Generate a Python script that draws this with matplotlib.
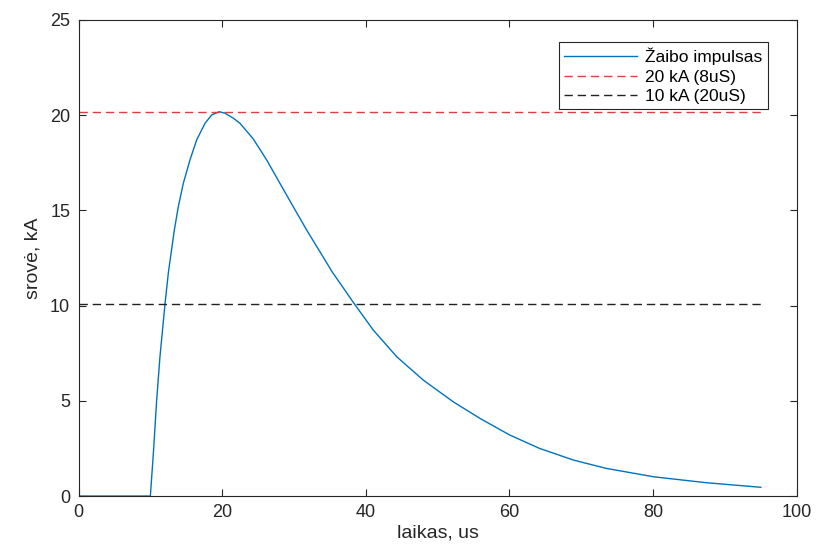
import matplotlib.pyplot as plt

plt.rcParams['font.family'] = ['Liberation Sans', 'DejaVu Sans']

# values
laikas = [0, 10.0, 10.42, 10.88, 11.34, 12.04, 12.5, 13.34, 13.89, 14.59,
          15.52, 16.45, 17.61, 18.54, 19.6, 20.39, 21.55, 22.48, 24.33, 26.19,
          28.04, 29.9, 31.76, 33.61, 35.3, 38.2, 41.03, 44.29, 47.99, 52.17,
          55.88, 60.06, 64.2, 68.9, 73.5, 80.1, 87.4, 95.0]
srove = [0, 0, 2.24, 5.04, 7.32, 10.08, 11.7, 13.97, 15.19, 16.42,
         17.65, 18.70, 19.57, 20.01, 20.18, 20.10, 19.84, 19.57, 18.75, 17.65,
         16.42, 15.19, 13.97, 12.83, 11.78, 10.2, 8.72, 7.32, 6.09, 4.95,
         4.08, 3.20, 2.50, 1.89, 1.45, 1.01, 0.70, 0.46]
riba_20 = [20.18, 20.18]
riba_10 = [10.08, 10.08]
riba_x = [0, 95]

fig = plt.figure(figsize=(8.18, 5.53), dpi=100)
ax = fig.add_axes([0.096, 0.103, 0.878, 0.861])

ax.plot(laikas, srove, color='#0072BD', lw=1.0, label='Žaibo impulsas')
ax.plot(riba_x, riba_20, color='#d94040', lw=1.0, dashes=(6, 3.5), label='20 kA (8uS)')
ax.plot(riba_x, riba_10, color='#222222', lw=1.0, dashes=(6, 3.5), label='10 kA (20uS)')

ax.set_xlim(0, 100)
ax.set_ylim(0, 25)
ax.set_xticks([0, 20, 40, 60, 80, 100])
ax.set_yticks([0, 5, 10, 15, 20, 25])
ax.tick_params(direction='in', top=True, right=True, length=5, width=0.8,
               labelsize=13, colors='#262626', pad=6)
for s in ax.spines.values():
    s.set_color('#262626')
    s.set_linewidth(0.8)

ax.set_xlabel('laikas, us', fontsize=14, color='#262626', labelpad=2)
ax.set_ylabel('srovė, kA', fontsize=14, color='#262626', labelpad=6)

leg = ax.legend(loc='upper right', bbox_to_anchor=(0.972, 0.971), fontsize=12.5,
                handlelength=4.2, handletextpad=0.5, borderpad=0.3,
                labelspacing=0.25, fancybox=False, framealpha=1)
leg.get_frame().set_edgecolor('#262626')
leg.get_frame().set_linewidth(0.8)

fig.savefig('out.png', dpi=100)
